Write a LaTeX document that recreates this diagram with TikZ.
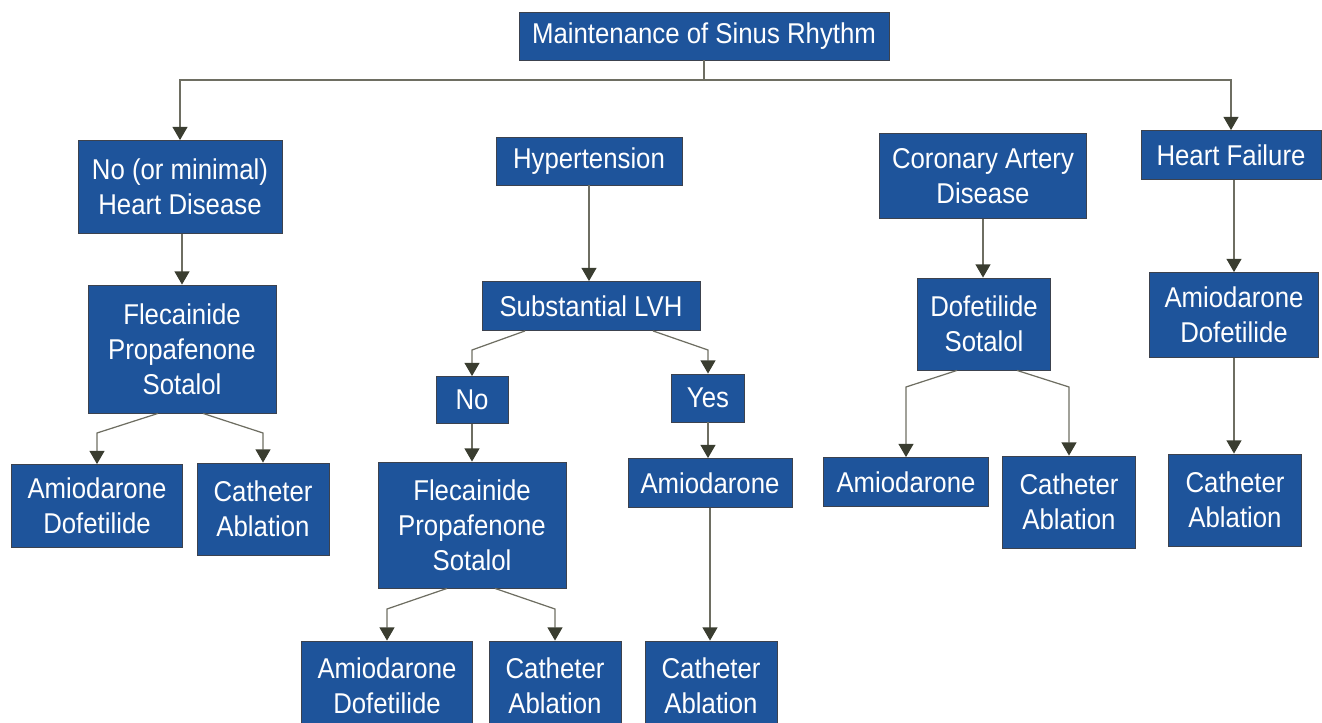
\documentclass[tikz,border=0pt]{standalone}
\usepackage{fontspec}
\setmainfont[FakeStretch=0.9]{Liberation Sans}
\usepackage{tikz}
\usetikzlibrary{calc,arrows.meta}

\definecolor{boxblue}{RGB}{30,84,155}
\definecolor{boxedge}{RGB}{60,66,78}
\definecolor{linegray}{RGB}{110,110,98}
\definecolor{tipdark}{RGB}{58,61,48}

\begin{document}
\begin{tikzpicture}[x=0.02cm,y=-0.02cm,
        box/.style={draw=boxedge,line width=0.5pt,fill=boxblue,text=white,
          align=center,inner sep=0pt,font=\fontsize{16.3}{20}\selectfont},
        link/.style={draw=linegray,line width=0.7pt},
        arr/.style={link,-{Triangle[width=8.5pt,length=7.5pt,color=tipdark]}}]
        \useasboundingbox (0,0) rectangle (1322,723);
        % top row
        \node[box,minimum width=7.40cm,minimum height=0.96cm] (top) at (704,36) {Maintenance of Sinus Rhythm};
        \node[box,minimum width=4.08cm,minimum height=1.86cm] (hd) at (180,187) {No (or minimal)\\Heart Disease};
        \node[box,minimum width=3.72cm,minimum height=0.96cm] (hyp) at (589,161) {Hypertension};
        \node[box,minimum width=4.14cm,minimum height=1.70cm] (cad) at (983,176) {Coronary Artery\\Disease};
        \node[box,minimum width=3.60cm,minimum height=0.98cm] (hf) at (1231,155) {Heart Failure};
        % no heart disease
        \node[box,minimum width=3.76cm,minimum height=2.56cm] (fpsA) at (182,349) {Flecainide\\Propafenone\\Sotalol};
        \node[box,minimum width=3.42cm,minimum height=1.66cm] (adA) at (97,506) {Amiodarone\\Dofetilide};
        \node[box,minimum width=2.64cm,minimum height=1.84cm] (caA) at (263,509) {Catheter\\Ablation};
        % hypertension
        \node[box,minimum width=4.36cm,minimum height=0.98cm] (lvh) at (591,306) {Substantial LVH};
        \node[box,minimum width=1.44cm,minimum height=0.94cm] (no) at (472,400) {No};
        \node[box,minimum width=1.46cm,minimum height=0.96cm] (yes) at (708,398) {Yes};
        \node[box,minimum width=3.76cm,minimum height=2.52cm] (fpsB) at (472,525) {Flecainide\\Propafenone\\Sotalol};
        \node[box,minimum width=3.28cm,minimum height=0.98cm] (amB) at (710,483) {Amiodarone};
        \node[box,minimum width=3.42cm,minimum height=1.80cm] (adB) at (387,686) {Amiodarone\\Dofetilide};
        \node[box,minimum width=2.64cm,minimum height=1.80cm] (caB) at (555,686) {Catheter\\Ablation};
        \node[box,minimum width=2.64cm,minimum height=1.80cm] (caC) at (711,686) {Catheter\\Ablation};
        % coronary artery disease
        \node[box,minimum width=2.66cm,minimum height=1.84cm] (ds) at (984,324) {Dofetilide\\Sotalol};
        \node[box,minimum width=3.30cm,minimum height=0.98cm] (amC) at (906,482) {Amiodarone};
        \node[box,minimum width=2.66cm,minimum height=1.84cm] (caD) at (1069,502) {Catheter\\Ablation};
        % heart failure
        \node[box,minimum width=3.38cm,minimum height=1.70cm] (adE) at (1234,315) {Amiodarone\\Dofetilide};
        \node[box,minimum width=2.66cm,minimum height=1.84cm] (caE) at (1235,500) {Catheter\\Ablation};

        \coordinate (split) at (top.south |- 0,80);
        \draw[link] (top.south) -- (split);
        \draw[arr] (split) -| (hd.north);
        \draw[arr] (split) -| (hf.north);

        \draw[arr] (hd.south -| fpsA.north) -- (fpsA.north);
        \draw[arr] ($(fpsA.south)+(-24,0)$) -- (adA.north |- 0,433) -- (adA.north);
        \draw[arr] ($(fpsA.south)+(21,0)$) -- (caA.north |- 0,433) -- (caA.north);

        \draw[arr] (hyp.south) -- (hyp.south |- lvh.north);
        \draw[arr] ($(lvh.south)+(-66,0)$) -- (no.north |- 0,350) -- (no.north);
        \draw[arr] ($(lvh.south)+(62,0)$) -- (yes.north |- 0,350) -- (yes.north);
        \draw[arr] (no.south) -- (fpsB.north);
        \draw[arr] (yes.south) -- (yes.south |- amB.north);
        \draw[arr] ($(fpsB.south)+(-25,0)$) -- (adB.north |- 0,609) -- (adB.north);
        \draw[arr] ($(fpsB.south)+(23,0)$) -- (caB.north |- 0,609) -- (caB.north);
        \draw[arr] (amB.south) -- (amB.south |- caC.north);

        \draw[arr] (cad.south) -- (cad.south |- ds.north);
        \draw[arr] ($(ds.south)+(-27,0)$) -- (amC.north |- 0,387) -- (amC.north);
        \draw[arr] ($(ds.south)+(33,0)$) -- (caD.north |- 0,387) -- (caD.north);

        \draw[arr] (adE.north |- hf.south) -- (adE.north);
        \draw[arr] (adE.south) -- (adE.south |- caE.north);
\end{tikzpicture}
\end{document}
